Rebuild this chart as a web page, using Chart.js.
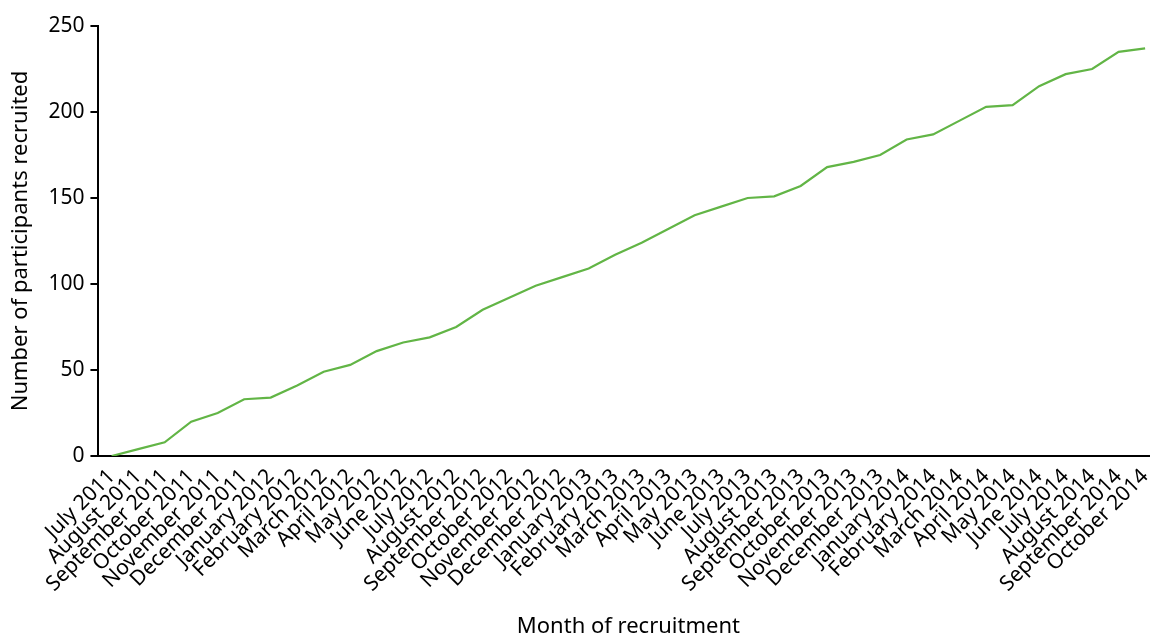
<!DOCTYPE html>
<html>
<head>
<meta charset="utf-8">
<script src="https://cdn.jsdelivr.net/npm/chart.js@4.4.1/dist/chart.umd.min.js"></script>
<style>
  html, body { margin: 0; padding: 0; background: #fff; overflow: hidden; }
  #wrap { width: 1171px; height: 640px; position: relative; }
</style>
</head>
<body>
<div id="wrap"><canvas id="recruit_chart"></canvas></div>
<script>
// months of recruitment, July 2011 .. October 2014
var months = [
  'July 2011', 'August 2011', 'September 2011', 'October 2011', 'November 2011', 'December 2011',
  'January 2012', 'February 2012', 'March 2012', 'April 2012', 'May 2012', 'June 2012',
  'July 2012', 'August 2012', 'September 2012', 'October 2012', 'November 2012', 'December 2012',
  'January 2013', 'February 2013', 'March 2013', 'April 2013', 'May 2013', 'June 2013',
  'July 2013', 'August 2013', 'September 2013', 'October 2013', 'November 2013', 'December 2013',
  'January 2014', 'February 2014', 'March 2014', 'April 2014', 'May 2014', 'June 2014',
  'July 2014', 'August 2014', 'September 2014', 'October 2014'
];

// cumulative participants recruited
var recruited = [
  0, 4, 8, 20, 25, 33,
  34, 41, 49, 53, 61, 66,
  69, 75, 85, 92, 99, 104,
  109, 117, 124, 132, 140, 145,
  150, 151, 157, 168, 171, 175,
  184, 187, 195, 203, 204, 215,
  222, 225, 235, 237
];

var yTicks = [0, 50, 100, 150, 200, 250];

var fontFamily = '"Noto Sans", "Open Sans", sans-serif';

function drawChart() {
  var ctx = document.getElementById('recruit_chart').getContext('2d');
  var myChart = new Chart(ctx, {
    type: 'line',
    data: {
      labels: months,
      datasets: [{
        label: 'Participants recruited',
        data: recruited,
        borderColor: '#62b546',
        borderWidth: 2.2,
        pointRadius: 0,
        fill: false,
        tension: 0
      }]
    },
    options: {
      responsive: true,
      maintainAspectRatio: false,
      devicePixelRatio: 1,
      animation: false,
      layout: { padding: { top: 26, right: 5, left: 8, bottom: 0 } },
      plugins: {
        legend: { display: false },
        tooltip: { enabled: false }
      },
      scales: {
        x: {
          offset: true,
          grid: { display: false, drawTicks: false },
          border: { display: true, color: '#000', width: 2 },
          ticks: {
            color: '#000',
            autoSkip: false,
            minRotation: 45,
            maxRotation: 45,
            padding: 8,
            font: { family: fontFamily, size: 21 }
          },
          title: {
            display: true,
            text: 'Month of recruitment',
            color: '#000',
            padding: { top: 9, bottom: 0 },
            font: { family: fontFamily, size: 22 }
          }
        },
        y: {
          min: 0,
          max: 250,
          afterBuildTicks: function (axis) {
            axis.ticks = yTicks.map(function (v) { return { value: v }; });
          },
          grid: {
            drawOnChartArea: false,
            drawTicks: true,
            tickLength: 8,
            color: '#000',
            lineWidth: 2
          },
          border: { display: true, color: '#000', width: 2 },
          ticks: {
            color: '#000',
            padding: 6,
            font: { family: fontFamily, size: 21 }
          },
          title: {
            display: true,
            text: 'Number of participants recruited',
            color: '#000',
            padding: { top: 0, bottom: 8 },
            font: { family: fontFamily, size: 22 }
          }
        }
      }
    }
  });
}

drawChart();
</script>
</body>
</html>
